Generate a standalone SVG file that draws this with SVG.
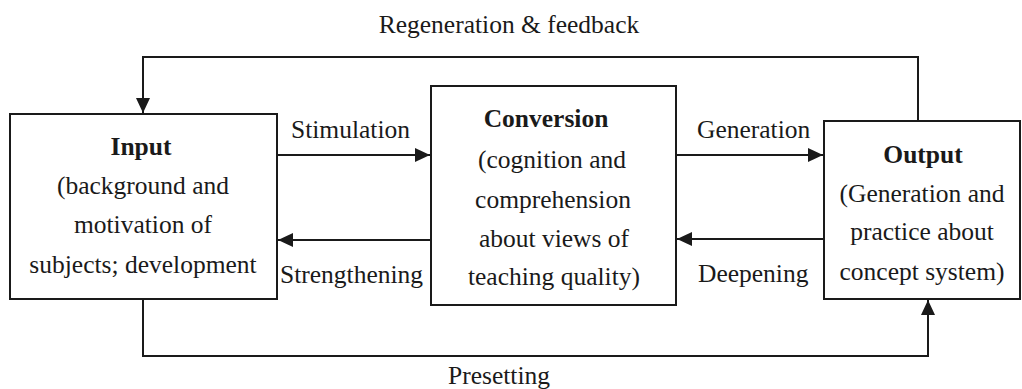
<svg xmlns="http://www.w3.org/2000/svg" width="1022" height="389" viewBox="0 0 1022 389">
<style>
  .box { fill: #fff; stroke: #1a1a1a; stroke-width: 2; }
  .con { fill: none; stroke: #1a1a1a; stroke-width: 2; }
  text { font-family: "Liberation Serif", "Times New Roman", serif; font-size: 25.5px; fill: #1a1a1a; }
  .c { text-anchor: middle; }
  .b { font-weight: bold; }
</style>
<defs>
  <marker id="arr" markerUnits="userSpaceOnUse" markerWidth="16" markerHeight="16" refX="15" refY="7" orient="auto">
    <path d="M0,0 L15,7 L0,14 Z" fill="#1a1a1a"/>
  </marker>
</defs>
<g id="connectors">
  <path class="con" d="M277,155 H430" marker-end="url(#arr)"/>
  <path class="con" d="M431,240 H278" marker-end="url(#arr)"/>
  <path class="con" d="M676,155 H823" marker-end="url(#arr)"/>
  <path class="con" d="M824,239 H677" marker-end="url(#arr)"/>
  <path class="con" d="M918,121 V57 H143 V113" marker-end="url(#arr)"/>
  <path class="con" d="M143,299 V356 H928 V300" marker-end="url(#arr)"/>
  <text x="291" y="138">Stimulation</text>
  <text x="280" y="283">Strengthening</text>
  <text x="697" y="138">Generation</text>
  <text x="698" y="282">Deepening</text>
  <text class="c" x="509" y="33">Regeneration &amp; feedback</text>
  <text class="c" x="499" y="384">Presetting</text>
</g>
<g id="input">
  <rect class="box" x="10" y="114" width="267" height="185"/>
  <text class="c b" x="141" y="155">Input</text>
  <text class="c" x="143" y="194">(background and</text>
  <text class="c" x="143" y="233">motivation of</text>
  <text class="c" x="143" y="273">subjects; development</text>
</g>
<g id="conversion">
  <rect class="box" x="431" y="86" width="245" height="219"/>
  <text class="c b" x="546" y="127">Conversion</text>
  <text class="c" x="552" y="168">(cognition and</text>
  <text class="c" x="553" y="208">comprehension</text>
  <text class="c" x="554" y="247">about views of</text>
  <text class="c" x="554" y="285">teaching quality)</text>
</g>
<g id="output">
  <rect class="box" x="824" y="121" width="196" height="178"/>
  <text class="c b" x="923" y="163">Output</text>
  <text class="c" x="922" y="202">(Generation and</text>
  <text class="c" x="922" y="240">practice about</text>
  <text class="c" x="922" y="280">concept system)</text>
</g>
</svg>
